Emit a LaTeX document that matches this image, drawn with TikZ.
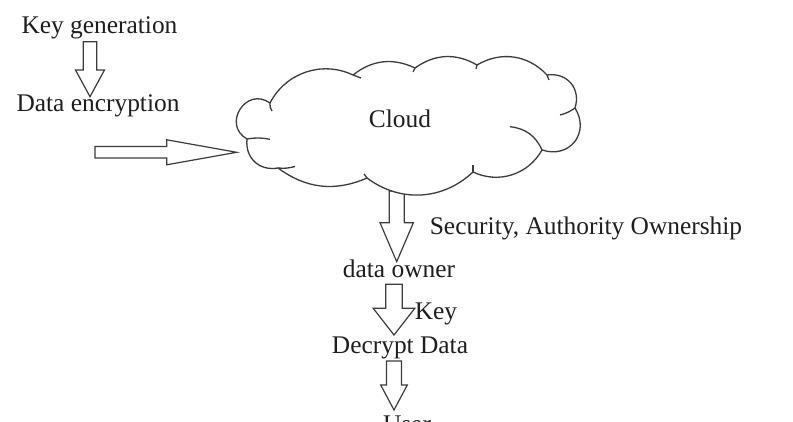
\documentclass[tikz,border=0pt]{standalone}
\usepackage{fontspec}
\setmainfont{Liberation Serif}
\usetikzlibrary{calc}
\definecolor{ink}{RGB}{30,30,30}
\definecolor{linec}{RGB}{60,60,60}
\pgfdeclarelayer{background}
\pgfsetlayers{background,main}
\tikzset{
  lbl/.style={inner sep=0pt, anchor=base, text=ink, font=\fontsize{12.7}{15}\selectfont},
  blockarr/.style={draw=linec, line width=0.6pt, fill=white, line join=miter},
  cloudline/.style={draw=linec, line width=0.65pt},
}
% down block arrow: #1 top, #2 tip, #3 shaft half width, #4 head half width, #5 head length
\newcommand\myDownArrow[5]{%
  \draw[blockarr] ($(#2 |- #1)+(-#3,0)$) -- ($(#2 |- #1)+(#3,0)$) -- ($(#2)+(#3,#5)$) -- ($(#2)+(#4,#5)$) -- (#2) -- ($(#2)+(-#4,#5)$) -- ($(#2)+(-#3,#5)$) -- cycle;}
% right block arrow: #1 tail, #2 tip
\newcommand\myRightArrow[5]{%
  \draw[blockarr] ($(#1 |- #2)+(0,#3)$) -- ($(#2)+(-#5,#3)$) -- ($(#2)+(-#5,#4)$) -- (#2) -- ($(#2)+(-#5,-#4)$) -- ($(#2)+(-#5,-#3)$) -- ($(#1 |- #2)+(0,-#3)$) -- cycle;}
\begin{document}
\begin{tikzpicture}[x=0.5pt,y=0.5pt]
\useasboundingbox (0,0) rectangle (793,-422);
\clip (0,0) rectangle (793,-422);
% texts
\node[lbl] (kg) at (99.5,-33.3) {Key generation};
\node[lbl] (de) at (98,-111.7) {Data encryption};
\node[lbl] (cloud) at (400,-127.3) {Cloud};
\node[lbl] (sec) at (586,-235) {Security, Authority Ownership};
\node[lbl] (do) at (399,-277.3) {data owner};
\node[lbl] (key) at (436,-320) {Key};
\node[lbl] (dd) at (400,-353.3) {Decrypt Data};
\node[lbl] (user) at (407,-432) {User};
% arrow end points
\coordinate (a1s) at ($(kg.base)+(-9.5,-8.4)$);
\coordinate (a1t) at ($(de.base)+(-8,15)$);
\coordinate (a2s) at ($(de.base)+(-3,-40.8)$);
\coordinate (a2t) at ($(cloud.base)+(-163.3,-25)$);
\coordinate (a3s) at ($(cloud.base)+(-4,-63.7)$);
\coordinate (a3t) at ($(do.base)+(-2.3,15.6)$);
\coordinate (a4s) at ($(do.base)+(-5,-7)$);
\coordinate (a4t) at ($(dd.base)+(-6,18.3)$);
\coordinate (a5s) at ($(dd.base)+(-6,-7.7)$);
\coordinate (a5t) at ($(user.base)+(-13,22)$);
\myDownArrow{a1s}{a1t}{6.7}{14.5}{26.7}
\myRightArrow{a2s}{a2t}{5.8}{12.5}{70}
\myDownArrow{a4s}{a4t}{8.3}{20.8}{26.7}
\myDownArrow{a5s}{a5t}{7.5}{13.3}{25}
\begin{pgfonlayer}{background}
\myDownArrow{a3s}{a3t}{7.5}{16.7}{39}
% cloud outline
\draw[cloudline, fill=white] (270,-103) to[bend left=44] (353,-75) to[bend left=32] (415,-68)
  to[bend left=33] (477,-65) to[bend left=39] (547,-75) to[bend left=58,looseness=1.2] (575,-108)
  to[bend left=70,looseness=1.4] (542,-150) to[bend left=43] (473,-172) to[bend left=40] (367,-178)
  to[bend left=30] (278,-168) to[bend left=53,looseness=1.15] (247,-139)
  to[bend left=93,looseness=1.75] (270,-103);
% interior hooks of the cloud
\draw[cloudline] (270,-103) to[bend right=20] (272,-111);
\draw[cloudline] (353,-75) to (361,-78);
\draw[cloudline] (415,-68) to (413,-72);
\draw[cloudline] (477,-65) to (476,-69);
\draw[cloudline] (547,-75) to (549,-80);
\draw[cloudline] (575,-108) to[bend left=10] (560,-115);
\draw[cloudline] (510,-126.7) to[bend left=30] (542,-150);
\draw[cloudline] (473,-172) to (473,-165);
\draw[cloudline] (367,-178) to (364,-174);
\draw[cloudline] (278,-168) to[bend right=10] (295,-166.5);
\draw[cloudline] (247,-139) to[bend left=10] (270,-139.3);
\end{pgfonlayer}
\end{tikzpicture}
\end{document}
